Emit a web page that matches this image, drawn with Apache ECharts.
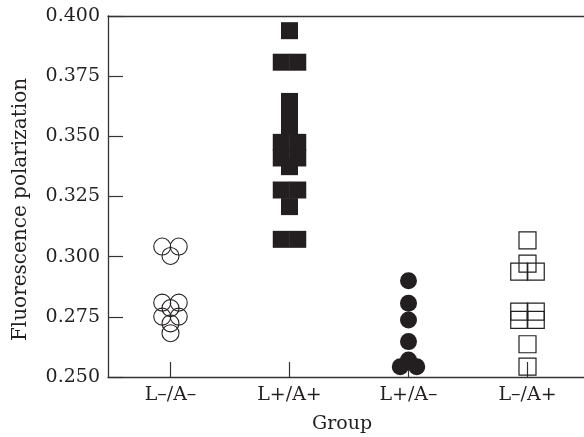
<!DOCTYPE html>
<html><head><meta charset="utf-8">
<script src="https://cdn.jsdelivr.net/npm/echarts@6/dist/echarts.min.js"></script>
<style>html,body{margin:0;padding:0;background:#fff}#c{width:584px;height:437px}</style>
</head><body><div id="c"></div>
<script>
const categories = ['L\u2013/A\u2013', 'L+/A+', 'L+/A\u2013', 'L\u2013/A+'];
const yTicks = [0.250, 0.275, 0.300, 0.325, 0.350, 0.375, 0.400];
// group values
const openCircles = [0.3042, 0.3042, 0.3003, 0.2809, 0.2809, 0.2786, 0.2751, 0.2751, 0.2723, 0.2682];
const filledSquares = [0.3939, 0.3808, 0.3808, 0.3645, 0.3590, 0.3545, 0.3475, 0.3475, 0.3410, 0.3410, 0.3374, 0.3277, 0.3277, 0.3208, 0.3072, 0.3072];
const filledCircles = [0.2900, 0.2806, 0.2737, 0.2647, 0.2571, 0.2543, 0.2543];
const openSquares = [0.3068, 0.2971, 0.2938, 0.2938, 0.2772, 0.2772, 0.2737, 0.2737, 0.2636, 0.2543];

const INK = '#231f20';
const FONT = 'DejaVu Serif';
const FS = 19;
const SYM = 17;

// place repeated values side by side (dot-plot layout)
function dots(catIdx, values) {
  const counts = {}, seen = {};
  values.forEach(v => { counts[v] = (counts[v] || 0) + 1; });
  return values.map(v => {
    const n = counts[v]; const i = seen[v] || 0; seen[v] = i + 1;
    return { value: [catIdx, v], symbolOffset: [(i - (n - 1) / 2) * (SYM - 0.5), 0] };
  });
}

const chart = echarts.init(document.getElementById('c'));
const axisLine = { show: true, lineStyle: { color: '#333', width: 1.3 } };
chart.setOption({
  animation: false,
  backgroundColor: '#fff',
  grid: [
    { left: 111, right: -3, top: 16, bottom: 60, containLabel: false, outerBoundsMode: 'none' },
    { left: 108, right: 0, top: 16, bottom: 60, containLabel: false, outerBoundsMode: 'none' }
  ],
  xAxis: [
    { type: 'category', gridIndex: 0, data: categories, boundaryGap: true,
      axisLine: { show: false },
      axisTick: { show: true, inside: true, length: 15, alignWithLabel: true, lineStyle: { color: '#333', width: 1.2 } },
      axisLabel: { margin: 9, fontFamily: FONT, fontSize: FS, color: INK },
      name: 'Group', nameLocation: 'middle', nameGap: 38,
      nameTextStyle: { fontFamily: FONT, fontSize: FS, color: INK, padding: [0, 14, 0, 0] },
      splitLine: { show: false } },
    { type: 'value', gridIndex: 1, position: 'bottom', min: 0, max: 1,
      axisLine: axisLine, axisTick: { show: false }, axisLabel: { show: false }, splitLine: { show: false } },
    { type: 'value', gridIndex: 1, position: 'top', min: 0, max: 1,
      axisLine: axisLine, axisTick: { show: false }, axisLabel: { show: false }, splitLine: { show: false } }
  ],
  yAxis: [
    { type: 'value', gridIndex: 0, min: 0.25, max: 0.4, show: false },
    { type: 'value', gridIndex: 1, min: 0.25, max: 0.4, interval: 0.025,
      axisLine: axisLine,
      axisTick: { show: true, inside: true, length: 15, lineStyle: { color: '#333', width: 1.2 } },
      axisLabel: { margin: 8, fontFamily: FONT, fontSize: FS, color: INK,
        formatter: v => yTicks.find(t => Math.abs(t - v) < 1e-9) !== undefined ? v.toFixed(3) : '' },
      splitLine: { show: false },
      name: 'Fluorescence polarization', nameLocation: 'middle', nameGap: 77,
      nameTextStyle: { fontFamily: FONT, fontSize: 20, color: INK, padding: [0, 26, 0, 0] } }
  ],
  series: [
    { type: 'scatter', xAxisIndex: 0, yAxisIndex: 0, symbol: 'circle', symbolSize: SYM,
      itemStyle: { color: 'rgba(0,0,0,0)', borderColor: INK, borderWidth: 1.1, opacity: 1 },
      data: dots(0, openCircles) },
    { type: 'scatter', xAxisIndex: 0, yAxisIndex: 0, symbol: 'rect', symbolSize: SYM,
      itemStyle: { color: INK, opacity: 1 },
      data: dots(1, filledSquares) },
    { type: 'scatter', xAxisIndex: 0, yAxisIndex: 0, symbol: 'circle', symbolSize: SYM,
      itemStyle: { color: INK, opacity: 1 },
      data: dots(2, filledCircles) },
    { type: 'scatter', xAxisIndex: 0, yAxisIndex: 0, symbol: 'rect', symbolSize: SYM,
      itemStyle: { color: 'rgba(0,0,0,0)', borderColor: INK, borderWidth: 1.2, opacity: 1 },
      data: dots(3, openSquares) }
  ]
});
</script></body></html>
